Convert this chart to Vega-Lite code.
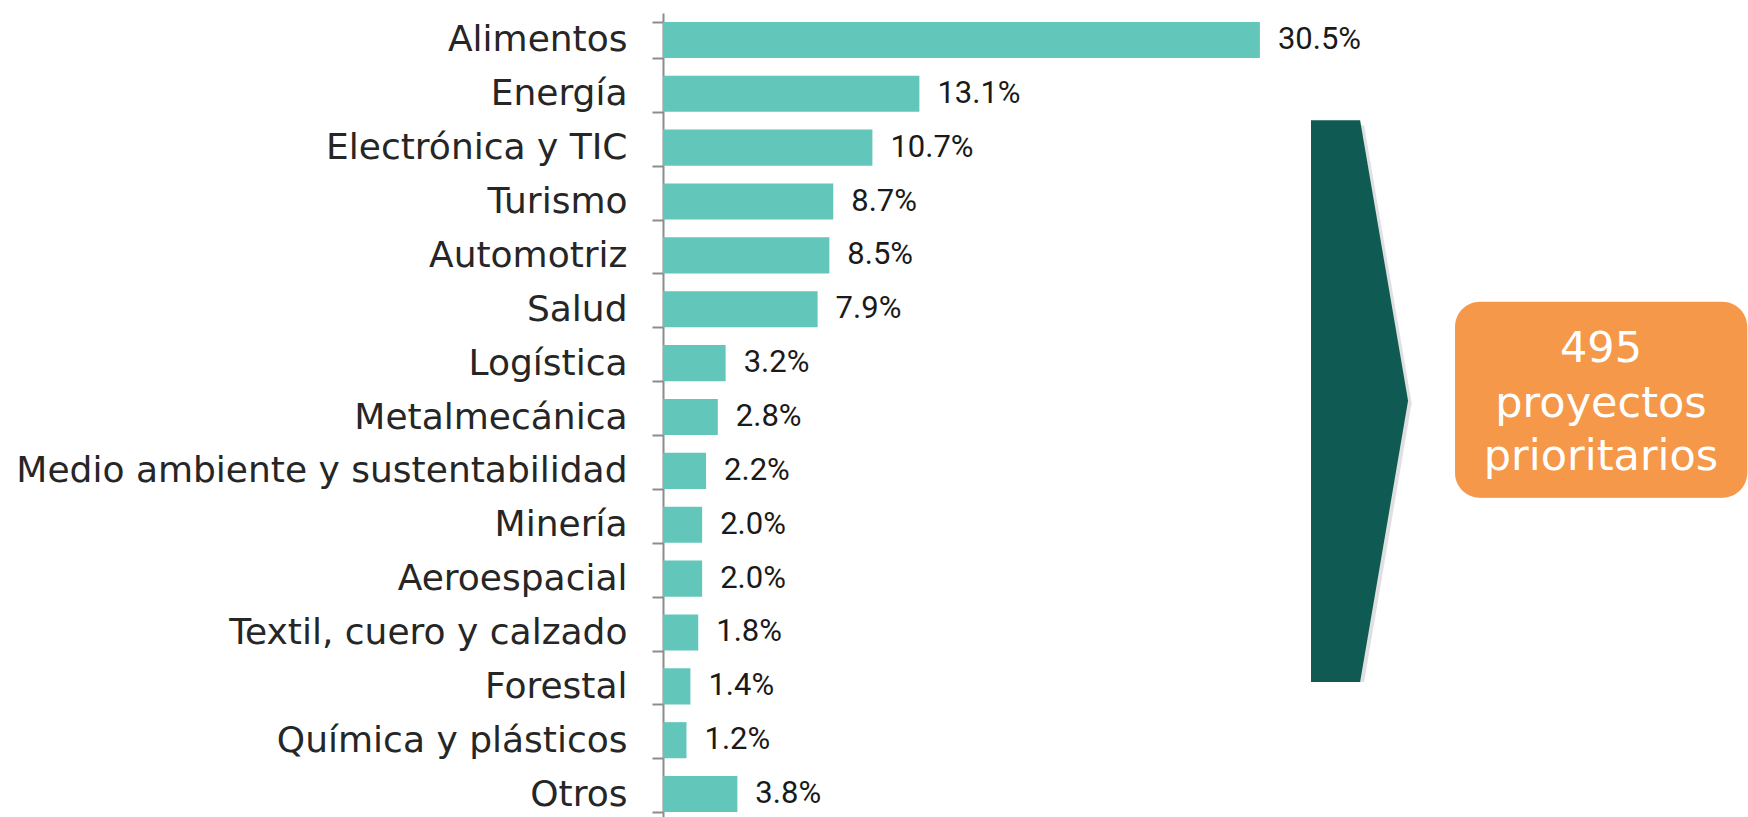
{
  "$schema": "https://vega.github.io/schema/vega-lite/v6.json",
  "width": 1085,
  "height": 808,
  "autosize": {"type": "none"},
  "padding": {"left": 663, "top": 13, "right": 0, "bottom": 0},
  "background": "white",
  "config": {"view": {"stroke": null}},
  "layer": [
    {
      "data": {"values": [
        {"sector": "Alimentos", "share": 0.305},
        {"sector": "Energía", "share": 0.131},
        {"sector": "Electrónica y TIC", "share": 0.107},
        {"sector": "Turismo", "share": 0.087},
        {"sector": "Automotriz\u2008", "share": 0.085},
        {"sector": "Salud", "share": 0.079},
        {"sector": "Logística", "share": 0.032},
        {"sector": "Metalmecánica", "share": 0.028},
        {"sector": "Medio ambiente y sustentabilidad", "share": 0.022},
        {"sector": "Minería", "share": 0.020},
        {"sector": "Aeroespacial", "share": 0.020},
        {"sector": "Textil, cuero y calzado", "share": 0.018},
        {"sector": "Forestal", "share": 0.014},
        {"sector": "Química y plásticos", "share": 0.012},
        {"sector": "Otros", "share": 0.038}
      ]},
      "encoding": {
        "y": {
          "field": "sector", "type": "nominal", "sort": null,
          "scale": {"paddingInner": 0.33, "paddingOuter": 0.165},
          "axis": {
            "title": null, "tickBand": "extent", "tickSize": 11, "tickWidth": 2,
            "tickColor": "#8c8c8c", "domainColor": "#8c8c8c", "domainWidth": 2,
            "labelFont": "DejaVu Sans", "labelFontSize": 36, "labelColor": "#262626",
            "labelPadding": 25, "labelLimit": 0
          }
        },
        "x": {
          "field": "share", "type": "quantitative",
          "scale": {"domain": [0, 0.5544], "nice": false, "zero": true},
          "axis": null
        }
      },
      "layer": [
        {"mark": {"type": "bar", "color": "#62C6BA"}},
        {
          "mark": {"type": "text", "align": "left", "baseline": "middle", "dx": 18, "font": "Roboto", "fontSize": 31, "color": "#1a1a1a"},
          "encoding": {"text": {"field": "share", "type": "quantitative", "format": ".1%"}}
        }
      ]
    },
    {
      "encoding": {},
      "layer": [
        {
          "data": {"values": [
            {"px": 0.3311, "top": 1.99, "bottom": 12.42},
            {"px": 0.3562, "top": 1.99, "bottom": 12.42},
            {"px": 0.3807, "top": 7.2, "bottom": 7.2}
          ]},
          "mark": {"type": "area", "color": "#999999", "opacity": 0.3, "xOffset": 4, "yOffset": 5},
          "encoding": {
            "x": {"field": "px", "type": "quantitative"},
            "y": {"field": "top", "type": "quantitative", "scale": {"domain": [0, 15], "reverse": true, "nice": false, "zero": false}, "axis": null},
            "y2": {"field": "bottom"}
          }
        },
        {
          "data": {"values": [
            {"px": 0.3311, "top": 1.99, "bottom": 12.42},
            {"px": 0.3562, "top": 1.99, "bottom": 12.42},
            {"px": 0.3807, "top": 7.2, "bottom": 7.2}
          ]},
          "mark": {"type": "area", "color": "#0F5A52"},
          "encoding": {
            "x": {"field": "px", "type": "quantitative"},
            "y": {"field": "top", "type": "quantitative", "axis": null},
            "y2": {"field": "bottom"}
          }
        },
        {
          "data": {"values": [{"left": 0.4047, "right": 0.554, "top": 5.36, "bottom": 9.0}]},
          "mark": {"type": "rect", "color": "#999999", "opacity": 0.3, "cornerRadius": 25, "yOffset": 6},
          "encoding": {
            "x": {"field": "left", "type": "quantitative"},
            "x2": {"field": "right"},
            "y": {"field": "top", "type": "quantitative", "axis": null},
            "y2": {"field": "bottom"}
          }
        },
        {
          "data": {"values": [{"left": 0.4047, "right": 0.554, "top": 5.36, "bottom": 9.0}]},
          "mark": {"type": "rect", "color": "#F5984A", "cornerRadius": 25},
          "encoding": {
            "x": {"field": "left", "type": "quantitative"},
            "x2": {"field": "right"},
            "y": {"field": "top", "type": "quantitative", "axis": null},
            "y2": {"field": "bottom"}
          }
        },
        {
          "data": {"values": [
            {"line": "495", "cx": 0.4793, "cy": 6.23},
            {"line": "proyectos", "cx": 0.4793, "cy": 7.25},
            {"line": "prioritarios", "cx": 0.4793, "cy": 8.24}
          ]},
          "mark": {"type": "text", "align": "center", "baseline": "middle", "font": "DejaVu Sans", "fontSize": 43, "color": "white"},
          "encoding": {
            "x": {"field": "cx", "type": "quantitative"},
            "y": {"field": "cy", "type": "quantitative", "axis": null},
            "text": {"field": "line"}
          }
        }
      ]
    }
  ],
  "resolve": {"scale": {"y": "independent"}}
}
